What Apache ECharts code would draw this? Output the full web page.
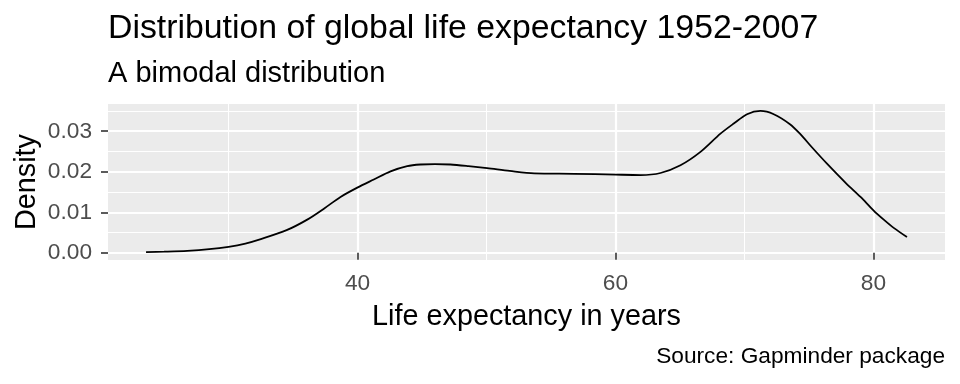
<!DOCTYPE html>
<html>
<head>
<meta charset="utf-8">
<script src="https://cdn.jsdelivr.net/npm/echarts@6/dist/echarts.min.js"></script>
<style>html,body{margin:0;padding:0;background:#fff;}#c{width:960px;height:384px;}</style>
</head>
<body>
<div id="c"></div>
<script>
// Life expectancy (years) and density
var lifeExp = [23.6, 25.0, 26.8, 28.5, 30.0, 31.3, 32.5, 34.5, 36.1, 37.39, 38.68, 39.98, 41.26, 42.56, 43.85, 44.88, 46.0, 47.2, 48.6, 50.05, 51.8, 53.7, 56.8, 60.0, 61.94, 63.49, 65.04, 66.59, 68.14, 69.17, 70.2, 71.24, 72.27, 73.5, 74.3, 75.3, 76.4, 77.9, 79.0, 80.0, 80.8, 81.6, 82.6];
var density = [0.0002, 0.0003, 0.0005, 0.0009, 0.0015, 0.0023, 0.0034, 0.0056, 0.0082, 0.0109, 0.0138, 0.0161, 0.0181, 0.0201, 0.0214, 0.0218, 0.0219, 0.0218, 0.0214, 0.0209, 0.0202, 0.0196, 0.0195, 0.0193, 0.0192, 0.0197, 0.0216, 0.0249, 0.0294, 0.0319, 0.0342, 0.0350, 0.0342, 0.0318, 0.0294, 0.0258, 0.0220, 0.0171, 0.0138, 0.0105, 0.0082, 0.0061, 0.0039];
var xTicks = [40, 60, 80];
var xMinorTicks = [30, 50, 70];
var yTicks = [0, 0.01, 0.02, 0.03];
var yMinorTicks = [0.005, 0.015, 0.025, 0.035];

var titleText = 'Distribution of global life expectancy 1952-2007';
var subtitleText = 'A bimodal distribution';
var captionText = 'Source: Gapminder package';
var xName = 'Life expectancy in years';
var yName = 'Density';

var FONT = '"Liberation Sans", Arial, sans-serif';
var xMin = 20.65, xMax = 85.55, yMin = -0.00176, yMax = 0.03672;

var points = lifeExp.map(function (v, i) { return [v, density[i]]; });

var chart = echarts.init(document.getElementById('c'), null, {renderer: 'canvas'});
chart.setOption({
  animation: false,
  backgroundColor: '#ffffff',
  title: [
    {text: titleText, left: 108, top: 12, padding: 0,
     textStyle: {fontFamily: FONT, fontSize: 33.8, fontWeight: 'normal', color: '#000'}},
    {text: subtitleText, left: 108, top: 59, padding: 0,
     textStyle: {fontFamily: FONT, fontSize: 29, fontWeight: 'normal', color: '#000'}},
    {text: captionText, right: 15, top: 345, padding: 0,
     textStyle: {fontFamily: FONT, fontSize: 22.7, fontWeight: 'normal', color: '#000'}}
  ],
  grid: {left: 108, right: 15, top: 104, bottom: 124, show: true, backgroundColor: '#EBEBEB', borderWidth: 0},
  xAxis: [
    {type: 'value', min: xMin, max: xMax,
     name: xName, nameLocation: 'middle', nameGap: 43, nameMoveOverlap: false,
     nameTextStyle: {fontFamily: FONT, fontSize: 28.8, color: '#000'},
     axisLine: {show: false},
     axisTick: {show: true, length: 7, customValues: xTicks, lineStyle: {color: '#333333', width: 1.6}},
     axisLabel: {customValues: xTicks, margin: 12, fontFamily: FONT, fontSize: 22.7, color: '#4D4D4D'},
     splitLine: {show: true, lineStyle: {color: '#ffffff', width: 2.2}}},
    {type: 'value', min: xMin, max: xMax, position: 'bottom',
     axisLine: {show: false},
     axisTick: {show: false, customValues: xMinorTicks},
     axisLabel: {show: false, customValues: xMinorTicks},
     splitLine: {show: true, lineStyle: {color: '#ffffff', width: 1.1}}}
  ],
  yAxis: [
    {type: 'value', min: yMin, max: yMax,
     name: yName, nameLocation: 'middle', nameGap: 66, nameRotate: 90, nameMoveOverlap: false,
     nameTextStyle: {fontFamily: FONT, fontSize: 28.8, color: '#000'},
     axisLine: {show: false},
     axisTick: {show: true, length: 7, customValues: yTicks, lineStyle: {color: '#333333', width: 1.6}},
     axisLabel: {customValues: yTicks, margin: 16, fontFamily: FONT, fontSize: 22.7, color: '#4D4D4D',
       formatter: function (v) { return v.toFixed(2); }},
     splitLine: {show: true, lineStyle: {color: '#ffffff', width: 2.2}}},
    {type: 'value', min: yMin, max: yMax, position: 'left',
     axisLine: {show: false},
     axisTick: {show: false, customValues: yMinorTicks},
     axisLabel: {show: false, customValues: yMinorTicks},
     splitLine: {show: true, lineStyle: {color: '#ffffff', width: 1.1}}}
  ],
  series: [{
    type: 'line', xAxisIndex: 0, yAxisIndex: 0, data: points, smooth: 0.3,
    showSymbol: false, symbol: 'none',
    lineStyle: {color: '#000000', width: 1.8}
  }]
});
</script>
</body>
</html>
